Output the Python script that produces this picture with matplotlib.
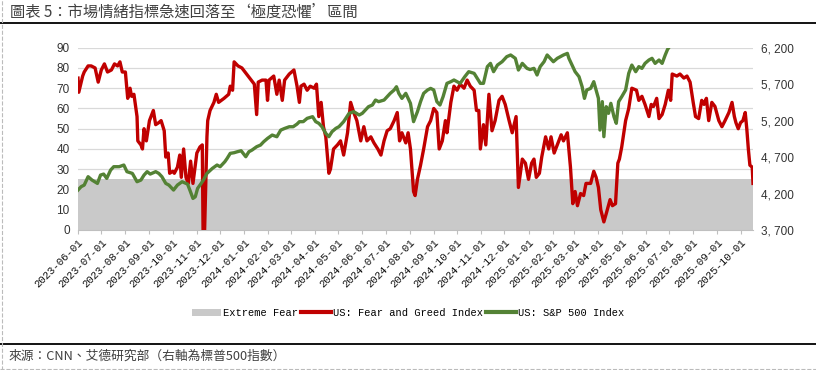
import matplotlib
matplotlib.use("Agg")
import pandas as pd
import matplotlib.pyplot as plt
from matplotlib.lines import Line2D
from matplotlib.patches import Patch
from matplotlib.ticker import FuncFormatter

# ---------------------------------------------------
# Data
# ---------------------------------------------------
fg_dates = [
    "2023-06-01", "2023-06-02", "2023-06-07", "2023-06-09", "2023-06-14", "2023-06-18",
    "2023-06-23", "2023-06-27", "2023-07-01", "2023-07-05", "2023-07-09", "2023-07-14",
    "2023-07-18", "2023-07-22", "2023-07-25", "2023-07-28", "2023-08-01", "2023-08-04",
    "2023-08-07", "2023-08-09", "2023-08-12", "2023-08-16", "2023-08-17", "2023-08-21",
    "2023-08-23", "2023-08-25", "2023-08-28", "2023-09-01", "2023-09-06", "2023-09-09",
    "2023-09-13", "2023-09-16", "2023-09-20", "2023-09-22", "2023-09-25", "2023-09-27",
    "2023-10-01", "2023-10-03", "2023-10-07", "2023-10-10", "2023-10-12", "2023-10-15",
    "2023-10-18", "2023-10-21", "2023-10-24", "2023-10-27", "2023-11-01", "2023-11-05",
    "2023-11-08", "2023-11-09", "2023-11-11", "2023-11-14", "2023-11-15", "2023-11-18",
    "2023-11-23", "2023-11-26", "2023-11-29", "2023-12-06", "2023-12-12", "2023-12-14",
    "2023-12-17", "2023-12-19", "2023-12-24", "2023-12-29", "2024-01-04", "2024-01-10",
    "2024-01-14", "2024-01-17", "2024-01-19", "2024-01-24", "2024-01-29", "2024-01-31",
    "2024-02-02", "2024-02-08", "2024-02-12", "2024-02-15", "2024-02-19", "2024-02-22",
    "2024-02-28", "2024-03-02", "2024-03-05", "2024-03-09", "2024-03-12", "2024-03-14",
    "2024-03-18", "2024-03-22", "2024-03-26", "2024-03-31", "2024-04-03", "2024-04-06",
    "2024-04-09", "2024-04-12", "2024-04-15", "2024-04-19", "2024-04-21", "2024-04-25",
    "2024-04-30", "2024-05-04", "2024-05-08", "2024-05-13", "2024-05-17", "2024-05-21",
    "2024-05-25", "2024-05-30", "2024-06-03", "2024-06-07", "2024-06-12", "2024-06-16",
    "2024-06-21", "2024-06-25", "2024-06-29", "2024-07-03", "2024-07-07", "2024-07-12",
    "2024-07-16", "2024-07-19", "2024-07-22", "2024-07-27", "2024-07-30", "2024-08-02",
    "2024-08-06", "2024-08-08", "2024-08-11", "2024-08-15", "2024-08-19", "2024-08-24",
    "2024-08-28", "2024-09-01", "2024-09-05", "2024-09-08", "2024-09-12", "2024-09-16",
    "2024-09-18", "2024-09-23", "2024-09-27", "2024-10-01", "2024-10-05", "2024-10-10",
    "2024-10-14", "2024-10-18", "2024-10-23", "2024-10-26", "2024-10-29", "2024-10-31",
    "2024-11-04", "2024-11-07", "2024-11-11", "2024-11-15", "2024-11-19", "2024-11-24",
    "2024-11-28", "2024-12-02", "2024-12-07", "2024-12-11", "2024-12-16", "2024-12-19",
    "2024-12-24", "2024-12-28", "2025-01-01", "2025-01-05", "2025-01-08", "2025-01-11",
    "2025-01-15", "2025-01-18", "2025-01-23", "2025-01-27", "2025-01-30", "2025-02-03",
    "2025-02-08", "2025-02-12", "2025-02-15", "2025-02-20", "2025-02-24", "2025-02-27",
    "2025-03-02", "2025-03-05", "2025-03-09", "2025-03-13", "2025-03-16", "2025-03-22",
    "2025-03-26", "2025-03-29", "2025-04-01", "2025-04-04", "2025-04-08", "2025-04-11",
    "2025-04-16", "2025-04-19", "2025-04-23", "2025-04-26", "2025-04-28", "2025-05-01",
    "2025-05-06", "2025-05-10", "2025-05-14", "2025-05-20", "2025-05-23", "2025-05-27",
    "2025-05-31", "2025-06-05", "2025-06-08", "2025-06-11", "2025-06-15", "2025-06-18",
    "2025-06-22", "2025-06-26", "2025-06-30", "2025-07-03", "2025-07-05", "2025-07-11",
    "2025-07-15", "2025-07-20", "2025-07-24", "2025-07-28", "2025-08-01", "2025-08-04",
    "2025-08-08", "2025-08-12", "2025-08-15", "2025-08-18", "2025-08-21", "2025-08-25",
    "2025-08-29", "2025-09-03", "2025-09-07", "2025-09-11", "2025-09-16", "2025-09-20",
    "2025-09-23", "2025-09-25", "2025-09-28", "2025-10-01", "2025-10-04", "2025-10-07",
    "2025-10-09", "2025-10-11", "2025-10-13", "2025-10-16", "2025-10-17",
]
fg_values = [
    75, 68, 76, 78, 81, 81, 80, 73, 79, 82, 78, 79,
    82, 81, 83, 78, 78, 65, 70, 66, 67, 56, 44, 42,
    40, 50, 44, 54, 59, 52, 53, 54, 49, 36, 38, 28,
    29, 28, 31, 37, 26, 40, 26, 23, 34, 23, 38, 41,
    42, 0, 0, 46, 54, 59, 63, 67, 63, 65, 67, 71,
    69, 83, 81, 80, 77, 74, 72, 57, 73, 74, 74, 64,
    74, 76, 67, 74, 64, 74, 77, 78, 79, 71, 63, 71,
    72, 69, 71, 70, 72, 56, 63, 51, 46, 28, 30, 40,
    42, 44, 37, 48, 63, 58, 54, 44, 51, 44, 46, 43,
    40, 37, 44, 49, 50, 54, 58, 44, 48, 43, 48, 40,
    19, 17, 25, 32, 40, 51, 54, 60, 58, 40, 44, 54,
    48, 63, 71, 69, 72, 70, 74, 71, 69, 59, 59, 40,
    52, 42, 67, 49, 54, 64, 66, 62, 54, 48, 56, 21,
    35, 33, 25, 33, 35, 26, 28, 36, 46, 40, 46, 38,
    43, 47, 44, 48, 31, 13, 19, 12, 18, 17, 23, 23,
    29, 26, 21, 10, 4, 8, 15, 12, 13, 33, 35, 41,
    54, 60, 70, 69, 64, 66, 62, 56, 62, 61, 65, 55,
    57, 62, 69, 64, 77, 76, 77, 75, 76, 73, 63, 56,
    55, 64, 62, 65, 54, 63, 61, 54, 51, 54, 58, 63,
    56, 53, 50, 53, 54, 58, 50, 40, 32, 31, 23,
]

spx_dates = [
    "2023-06-01", "2023-06-05", "2023-06-09", "2023-06-14", "2023-06-19", "2023-06-26",
    "2023-06-30", "2023-07-04", "2023-07-08", "2023-07-13", "2023-07-17", "2023-07-24",
    "2023-07-30", "2023-08-03", "2023-08-10", "2023-08-16", "2023-08-21", "2023-08-25",
    "2023-08-29", "2023-09-02", "2023-09-09", "2023-09-13", "2023-09-17", "2023-09-22",
    "2023-09-26", "2023-10-02", "2023-10-07", "2023-10-13", "2023-10-20", "2023-10-23",
    "2023-10-27", "2023-10-30", "2023-11-02", "2023-11-06", "2023-11-10", "2023-11-14",
    "2023-11-21", "2023-11-27", "2023-12-01", "2023-12-07", "2023-12-10", "2023-12-14",
    "2023-12-19", "2023-12-23", "2023-12-28", "2024-01-03", "2024-01-07", "2024-01-11",
    "2024-01-17", "2024-01-22", "2024-01-26", "2024-01-31", "2024-02-06", "2024-02-12",
    "2024-02-17", "2024-02-22", "2024-02-28", "2024-03-04", "2024-03-09", "2024-03-12",
    "2024-03-17", "2024-03-22", "2024-03-29", "2024-04-02", "2024-04-06", "2024-04-10",
    "2024-04-15", "2024-04-19", "2024-04-23", "2024-04-28", "2024-05-02", "2024-05-08",
    "2024-05-15", "2024-05-21", "2024-05-28", "2024-06-01", "2024-06-05", "2024-06-09",
    "2024-06-14", "2024-06-18", "2024-06-22", "2024-06-29", "2024-07-03", "2024-07-07",
    "2024-07-12", "2024-07-15", "2024-07-18", "2024-07-22", "2024-07-27", "2024-07-30",
    "2024-08-02", "2024-08-06", "2024-08-11", "2024-08-15", "2024-08-19", "2024-08-24",
    "2024-08-28", "2024-09-01", "2024-09-05", "2024-09-09", "2024-09-13", "2024-09-18",
    "2024-09-23", "2024-09-27", "2024-10-01", "2024-10-05", "2024-10-11", "2024-10-16",
    "2024-10-23", "2024-10-27", "2024-10-31", "2024-11-04", "2024-11-09", "2024-11-13",
    "2024-11-17", "2024-11-22", "2024-11-28", "2024-12-04", "2024-12-09", "2024-12-15",
    "2024-12-19", "2024-12-24", "2024-12-30", "2025-01-03", "2025-01-08", "2025-01-12",
    "2025-01-16", "2025-01-21", "2025-01-25", "2025-01-29", "2025-02-02", "2025-02-07",
    "2025-02-11", "2025-02-15", "2025-02-20", "2025-02-22", "2025-02-26", "2025-03-02",
    "2025-03-07", "2025-03-11", "2025-03-14", "2025-03-17", "2025-03-22", "2025-03-26",
    "2025-03-29", "2025-04-01", "2025-04-03", "2025-04-06", "2025-04-08", "2025-04-11",
    "2025-04-14", "2025-04-17", "2025-04-21", "2025-04-24", "2025-04-27", "2025-05-01",
    "2025-05-06", "2025-05-10", "2025-05-14", "2025-05-19", "2025-05-23", "2025-05-27",
    "2025-05-31", "2025-06-05", "2025-06-09", "2025-06-13", "2025-06-18", "2025-06-22",
    "2025-06-26", "2025-06-29", "2025-07-03",
]
spx_values = [
    4248, 4294, 4316, 4431, 4385, 4339, 4453, 4467, 4408, 4522, 4568, 4568,
    4591, 4500, 4476, 4362, 4385, 4453, 4500, 4467, 4500, 4476, 4431, 4339,
    4316, 4248, 4316, 4362, 4330, 4248, 4133, 4156, 4271, 4330, 4394, 4476,
    4545, 4591, 4568, 4636, 4682, 4751, 4760, 4773, 4787, 4705, 4773, 4796,
    4842, 4865, 4910, 4956, 5002, 4979, 5070, 5093, 5116, 5116, 5153, 5185,
    5186, 5231, 5254, 5186, 5163, 5117, 5025, 4980, 5048, 5094, 5117, 5186,
    5300, 5323, 5277, 5300, 5345, 5391, 5414, 5482, 5460, 5482, 5528, 5574,
    5620, 5665, 5574, 5505, 5574, 5505, 5437, 5186, 5323, 5460, 5574, 5620,
    5642, 5620, 5460, 5414, 5528, 5711, 5734, 5757, 5734, 5711, 5803, 5871,
    5848, 5780, 5711, 5711, 5940, 5985, 5871, 5962, 6008, 6077, 6100, 6054,
    5894, 5985, 5917, 5900, 5917, 5826, 5940, 6008, 6100, 6054, 6008, 6054,
    6077, 6100, 6122, 6054, 5962, 5871, 5803, 5665, 5505, 5620, 5642, 5734,
    5620, 5505, 5071, 5460, 4980, 5391, 5300, 5437, 5254, 5163, 5460, 5528,
    5620, 5848, 5962, 5871, 5940, 5917, 5985, 6031, 6054, 5985, 6031, 5985,
    6100, 6177, 6237,
]

extreme_fear_level = 25
left_ticks = list(range(0, 91, 10))
right_ticks = [3700, 4200, 4700, 5200, 5700, 6200]

title_text = "圖表 5：市場情緒指標急速回落至‘極度恐懼’區間"
source_text = "來源：CNN、艾德研究部（右軸為標普500指數）"
legend_labels = ["Extreme Fear", "US: Fear and Greed Index", "US: S&P 500 Index"]

RED = "#C00000"
GREEN = "#548235"
FEAR_GRAY = "#C9C9C9"
GRID = "#D9D9D9"
CJK = ["Noto Sans CJK TC", "DejaVu Sans"]
MONO = "Liberation Mono"
SANS = "Liberation Sans"

# ---------------------------------------------------
# Figure
# ---------------------------------------------------
W, H = 816, 370
fig = plt.figure(figsize=(W / 100, H / 100), dpi=100)
ax = fig.add_axes([78 / W, 140 / H, (753 - 78) / W, (322.3 - 140) / H])
ax2 = ax.twinx()

fg_x = pd.to_datetime(fg_dates)
spx_x = pd.to_datetime(spx_dates)

ax.axhspan(0, extreme_fear_level, color=FEAR_GRAY, lw=0, zorder=1)
ax.plot(fg_x, fg_values, color=RED, lw=2.4, zorder=3, solid_joinstyle="round")
ax2.plot(spx_x, spx_values, color=GREEN, lw=2.4, solid_joinstyle="round")

ax.set_xlim(fg_x[0], fg_x[-1])
ax.set_ylim(0, 90)
ax2.set_ylim(3700, 6200)

ax.set_yticks(left_ticks)
ax2.set_yticks(right_ticks)
ax2.yaxis.set_major_formatter(FuncFormatter(lambda v, p: f"{int(v):,}".replace(",", ", ")))

ax.grid(axis="y", color=GRID, lw=0.9)
ax.set_axisbelow(True)

month_ticks = pd.date_range("2023-06-01", "2025-10-01", freq="MS")
ax.set_xticks(month_ticks)
ax.set_xticklabels([d.strftime("%Y-%m-%d") for d in month_ticks],
                   rotation=45, ha="right", rotation_mode="anchor",
                   fontfamily=MONO, fontsize=7.7, color="#111111")
ax.tick_params(axis="x", length=3, color="#BFBFBF", pad=2)
ax.tick_params(axis="y", length=0, pad=6, labelsize=8.5, labelcolor="#333333")
ax2.tick_params(axis="y", length=0, pad=6, labelsize=8.5, labelcolor="#333333")
for lbl in ax.get_yticklabels() + ax2.get_yticklabels():
    lbl.set_fontfamily(SANS)

for s in ["top", "left", "right"]:
    ax.spines[s].set_visible(False)
for s in ax2.spines.values():
    s.set_visible(False)
ax.spines["bottom"].set_color("#BFBFBF")

# ---------------------------------------------------
# Legend
# ---------------------------------------------------
handles = [
    Patch(facecolor=FEAR_GRAY, edgecolor="none"),
    Line2D([], [], color=RED, lw=3),
    Line2D([], [], color=GREEN, lw=3),
]
fig.legend(handles, legend_labels, loc="center", bbox_to_anchor=(0.5, 1 - 313 / H),
           ncol=3, frameon=False, prop={"family": MONO, "size": 7.5},
           handlelength=2.8, handleheight=0.7, handletextpad=0.25, columnspacing=0.3)

# ---------------------------------------------------
# Title, source, rules
# ---------------------------------------------------
fig.text(10 / W, 1 - 12 / H, title_text, fontsize=11, family=CJK,
         color="#404040", va="center", ha="left")
fig.text(9 / W, 1 - 356 / H, source_text, fontsize=9.2, family=CJK,
         color="#404040", va="center", ha="left")
fig.add_artist(Line2D([0, 1], [1 - 23 / H] * 2, transform=fig.transFigure, color="black", lw=1.3))
fig.add_artist(Line2D([0, 1], [1 - 344 / H] * 2, transform=fig.transFigure, color="black", lw=1.3))
fig.add_artist(Line2D([1.5 / W] * 2, [0, 1], transform=fig.transFigure, color="#BBBBBB", lw=0.8, ls="--"))
fig.add_artist(Line2D([0, 1], [1.5 / H] * 2, transform=fig.transFigure, color="#BBBBBB", lw=0.8, ls="--"))

fig.savefig("out.png", dpi=100)
